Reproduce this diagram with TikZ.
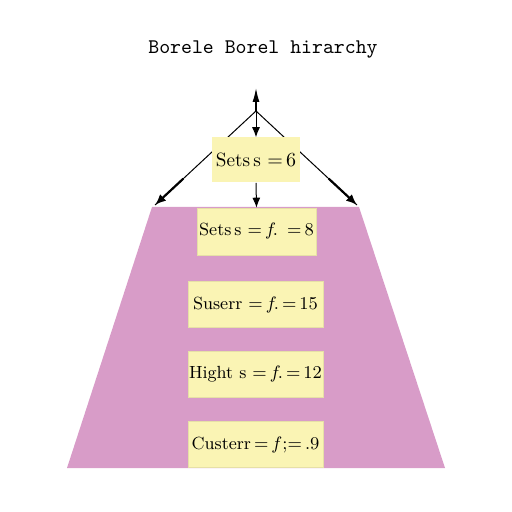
\documentclass[tikz,border=0pt]{standalone}
\usepackage{tikz}
\usetikzlibrary{arrows.meta, calc}
\definecolor{pyramidpink}{HTML}{D89CC8}
\definecolor{boxyellow}{HTML}{FAF4B4}
\thickmuskip=3mu plus 1mu

\begin{document}
\begin{tikzpicture}[x=0.5pt, y=-0.5pt,
  stage/.style={fill=boxyellow, draw=boxyellow!92!black, line width=0.3pt, inner sep=0pt,
    minimum width=67.5pt, minimum height=23pt, font=\fontsize{8.8}{10}\selectfont},
  link/.style={-{Latex[length=5pt, width=4pt]}, line width=0.5pt},
  spread/.style={-{Latex[length=5.5pt, width=4.5pt]}, line width=1.1pt}
]
\useasboundingbox (0,0) rectangle (512,512);
\node[font=\fontsize{10.4}{12}\selectfont\ttfamily] (title) at (263,50) {Borele Borel hirarchy};

% pyramid body
\fill[pyramidpink] (152,207) -- (359,207) -- (445,468) -- (67,468) -- cycle;

\coordinate (apex) at (256,111);
\coordinate (peak) at (256,88);
\coordinate (lt) at (155,205);
\coordinate (rt) at (357,205);

\draw[line width=0.5pt] (apex) -- (lt);
\draw[line width=0.5pt] (apex) -- (rt);
\draw[spread] ($(apex)!0.72!(lt)$) -- (lt);
\draw[spread] ($(apex)!0.72!(rt)$) -- (rt);

\node[stage, draw=none, minimum width=44pt, minimum height=22.5pt, font=\fontsize{9.6}{11}\selectfont] (s0) at (256,160) {Sets\,s $=6$};
\node[stage, minimum width=59.5pt, minimum height=23.5pt] (s1) at (256.5,231.5) {Sets\,s $= f\!.\ =8$};
\node[stage] (s2) at (255.5,304.5) {Suserr $= f\!. = 15$};
\node[stage] (s3) at (255.5,374.5) {Hight s $= f\!. = 12$};
\node[stage] (s4) at (255.5,444.5) {Custerr\,$= f;\!=.9$};

\draw[-{Latex[length=7pt, width=3.5pt]}, line width=0.7pt] (apex) -- (peak);
\draw[link] (apex) -- (s0.north);
\draw[link] (s0.south) -- (s1.north);
\end{tikzpicture}
\end{document}
